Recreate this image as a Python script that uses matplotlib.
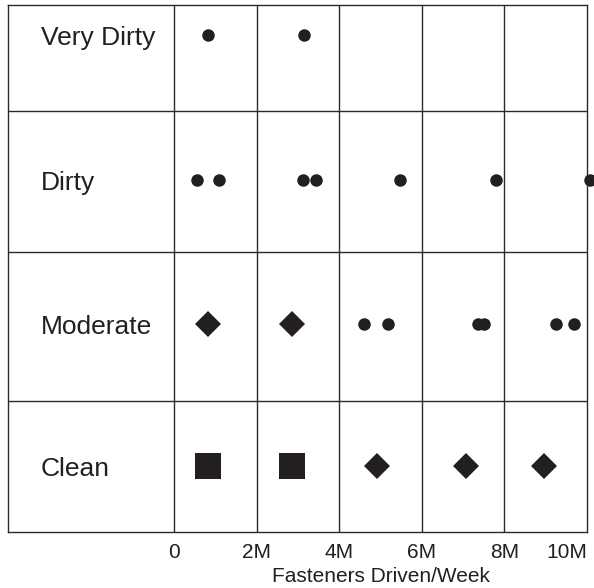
"""Contamination level vs. fasteners driven per week, drawn as a grid table."""

import matplotlib
matplotlib.use('Agg')
import matplotlib.pyplot as plt

# --- Data (millions of fasteners driven per week) ----------------------------
categories = ['Clean', 'Moderate', 'Dirty', 'Very Dirty']

very_dirty_circles = [0.82, 3.15]
dirty_circles      = [0.55, 1.10, 3.13, 3.43, 5.47, 7.79, 10.07]
moderate_diamonds  = [0.83, 2.86]
moderate_circles   = [4.61, 5.17, 7.37, 7.51, 9.24, 9.68]
clean_squares      = [0.82, 2.86]
clean_diamonds     = [4.91, 7.08, 8.97]

x_ticks       = [0, 2, 4, 6, 8, 10]
x_tick_labels = ['0', '2M', '4M', '6M', '8M', '10M']
x_label       = 'Fasteners Driven/Week'

# --- Layout ------------------------------------------------------------------
# Row heights (bottom to top) in the vertical units of the axes
row_heights = [131, 149, 141, 106]
row_bounds = [0]
for h in row_heights:
    row_bounds.append(row_bounds[-1] + h)
# vertical position of markers / labels in each row
row_y = {'Clean': 66, 'Moderate': 208, 'Dirty': 352, 'Very Dirty': 497}

X_LEFT = -4.02      # left edge of the label column, in data units
INK = '#231f20'
LINE = '#2a2a2a'

plt.rcParams['font.family'] = ['Liberation Sans', 'DejaVu Sans']

fig = plt.figure(figsize=(5.94, 5.88), dpi=100, facecolor='white')
ax = fig.add_axes([8 / 594, 56 / 588, 579 / 594, 527 / 588])

ax.set_xlim(X_LEFT, 10)
ax.set_ylim(row_bounds[0], row_bounds[-1])

# grid lines
for x in x_ticks[:-1]:
    ax.axvline(x, color=LINE, lw=1.0, zorder=1)
for y in row_bounds[1:-1]:
    ax.axhline(y, color=LINE, lw=1.0, zorder=1)
for spine in ax.spines.values():
    spine.set_color(LINE)
    spine.set_linewidth(1.0)

# markers
def dots(xs, cat, marker, ms):
    ax.plot(xs, [row_y[cat]] * len(xs), linestyle='none', marker=marker,
            markersize=ms, color=INK, markeredgewidth=0, clip_on=False, zorder=3)

dots(very_dirty_circles, 'Very Dirty', 'o', 9)
dots(dirty_circles, 'Dirty', 'o', 9)
dots(moderate_diamonds, 'Moderate', 'D', 13.5)
dots(moderate_circles, 'Moderate', 'o', 9)
dots(clean_squares, 'Clean', 's', 18.5)
dots(clean_diamonds, 'Clean', 'D', 13.5)

# row labels
for cat in categories:
    ax.text(X_LEFT + 0.80, row_y[cat] - 3, cat, ha='left', va='center',
            fontsize=19, color=INK)

ax.set_xticks(x_ticks)
ax.set_xticklabels(x_tick_labels, fontsize=15, color=INK)
ax.get_xticklabels()[-1].set_horizontalalignment('right')
ax.tick_params(axis='x', length=0, pad=8)
ax.set_yticks([])
ax.set_xlabel(x_label, fontsize=15, color=INK)
ax.xaxis.set_label_coords((0 - X_LEFT + 5.0) / (10 - X_LEFT), -0.066)

fig.savefig('out.png', dpi=100, facecolor='white')
